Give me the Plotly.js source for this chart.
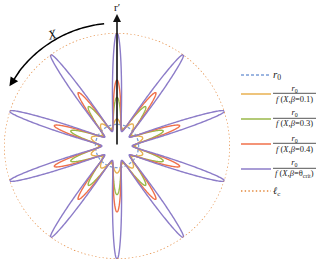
<!DOCTYPE html>
<html><head><meta charset="utf-8">
<script src="https://cdn.plot.ly/plotly-3.0.1.min.js"></script>
<style>html,body{margin:0;padding:0;background:#fff}#c{width:323px;height:266px}</style>
</head><body><div id="c"></div>
<script>
// ---- data ----
const petalCount = 10;          // number of spikes
const spikeAngle0 = 90;         // first spike direction (deg)
const r0 = 1;                   // reference radius
const lc = 5.23;                // ℓc (outer dotted circle) in units of r0
const curveBeta = ['0.1', '0.3', '0.4', 'θ<sub>crit</sub>'];
const curvePeak = [1.25, 2.25, 3.05, 5.23];    // spike-tip radius / r0
const curveValley = [0.85, 0.78, 0.74, 0.70];  // radius between spikes / r0
const arrowArcTheta = [96, 151];               // X arrow angular span (deg)

// ---- styles ----
const curveColors = ['#E8B050', '#9AB84A', '#F0704A', '#8C7CC8'];
const blue = '#7C9FD8', dotted = '#E3873A';
const serif = 'Liberation Serif, Times New Roman, serif';

const N = 3600;
const TH = []; for(let i=0;i<=N;i++) TH.push(i*360/N);

const traces = [];
const legendY = [75, 94, 119, 144, 169, 191];
traces.push({type:'scatterpolar', theta:TH, r:TH.map(()=>r0), mode:'lines',
  line:{color:blue, width:1.3, dash:'3px,2px'}, name:' ', legend:'legend', hoverinfo:'skip'});
curvePeak.forEach((pk,i)=>{
  const iv = 1/curveValley[i], ip = 1/pk;
  const r = TH.map(t => {
    const u = (1 + Math.cos(petalCount*(t-spikeAngle0)*Math.PI/180))/2;
    return r0/(iv - (iv-ip)*u);
  });
  traces.push({type:'scatterpolar', theta:TH, r:r, mode:'lines',
    line:{color:curveColors[i], width:1.4}, name:' ', legend:'legend'+(i+2), hoverinfo:'skip'});
});
traces.push({type:'scatterpolar', theta:TH, r:TH.map(()=>lc), mode:'lines',
  line:{color:dotted, width:1.4, dash:'1.4px,2.3px'}, name:' ', legend:'legend6', hoverinfo:'skip'});

const W=323,H=266;
const px = x=>x/W, py = y=>1-y/H;
const CX=117, CY=146, RPX=113;   // polar centre / radius in pixels
const layout = {
  width:W, height:H, margin:{l:0,r:0,t:0,b:0}, paper_bgcolor:'#fff',
  showlegend:true,
  polar:{domain:{x:[px(CX-RPX),px(CX+RPX)], y:[py(CY+RPX),py(CY-RPX)]}, bgcolor:'rgba(0,0,0,0)',
    radialaxis:{visible:false, range:[0,lc], showgrid:false},
    angularaxis:{visible:false, showgrid:false, showline:false, ticks:''}},
  annotations:[], shapes:[]
};
for(let k=0;k<6;k++){
  const key = k===0?'legend':'legend'+(k+1);
  layout[key] = {x:px(236), xanchor:'left', y:py(legendY[k]), yanchor:'middle',
    bgcolor:'rgba(0,0,0,0)', borderwidth:0, font:{size:8,family:serif}, itemwidth:30, itemclick:false};
}
const tc = '#222';
layout.annotations.push({xref:'paper',yref:'paper',x:px(271),y:py(legendY[0]),xanchor:'left',yanchor:'middle',
  text:'<i>r</i><sub>0</sub>', showarrow:false, font:{family:serif,size:11,color:tc}});
for(let i=0;i<4;i++){
  const yc = legendY[i+1];
  layout.annotations.push({xref:'paper',yref:'paper',x:px(294.5),y:py(yc-1),xanchor:'center',yanchor:'middle',
    text:'<i>r</i><sub>0</sub><br><i>f</i> (<i>X</i>,<i>β</i>='+curveBeta[i]+')', align:'center', showarrow:false,
    font:{family:serif,size:8.5,color:tc}});
  layout.shapes.push({type:'line',xref:'paper',yref:'paper',x0:px(273),x1:px(316),y0:py(yc-0.7),y1:py(yc-0.7),
    line:{color:'#555',width:1}});
}
layout.annotations.push({xref:'paper',yref:'paper',x:px(271),y:py(legendY[5]),xanchor:'left',yanchor:'middle',
  text:'<i>ℓ</i><sub>c</sub>', showarrow:false, font:{family:serif,size:10,color:tc}});
// r' arrow and label
layout.annotations.push({xref:'paper',yref:'paper',x:px(CX),y:py(14),ax:0,ay:132,text:'',showarrow:true,
  arrowhead:2,arrowsize:1,arrowwidth:1.6,arrowcolor:'#111'});
layout.annotations.push({xref:'paper',yref:'paper',x:px(CX),y:py(7),xanchor:'center',yanchor:'middle',
  text:'r\u2032',showarrow:false,font:{family:serif,size:11,color:'#111'}});
// X curved arrow (arc concentric with the plot)
const RA = 123, rad = d=>d*Math.PI/180;
let path = '';
for(let t=arrowArcTheta[0]; t<=arrowArcTheta[1]-8; t+=1){
  const x = CX + RA*Math.cos(rad(t)), y = CY - RA*Math.sin(rad(t));
  path += (path?' L':'M') + px(x).toFixed(5)+','+py(y).toFixed(5);
}
layout.shapes.push({type:'path', xref:'paper', yref:'paper', path:path, line:{color:'#000',width:1.5}});
const hx = CX + RA*Math.cos(rad(arrowArcTheta[1])), hy = CY - RA*Math.sin(rad(arrowArcTheta[1]));
const tx = CX + RA*Math.cos(rad(arrowArcTheta[1]-9)), ty = CY - RA*Math.sin(rad(arrowArcTheta[1]-9));
layout.annotations.push({xref:'paper',yref:'paper',x:px(hx),y:py(hy),ax:tx-hx,ay:ty-hy,text:'',showarrow:true,
  arrowhead:2,arrowsize:1.2,arrowwidth:1.5,arrowcolor:'#000'});
layout.annotations.push({xref:'paper',yref:'paper',x:px(52),y:py(34),xanchor:'center',yanchor:'middle',
  text:'<i>X</i>',textangle:-15,showarrow:false,font:{family:serif,size:13,color:'#111'}});

Plotly.newPlot('c', traces, layout, {staticPlot:true, displayModeBar:false});
</script></body></html>
